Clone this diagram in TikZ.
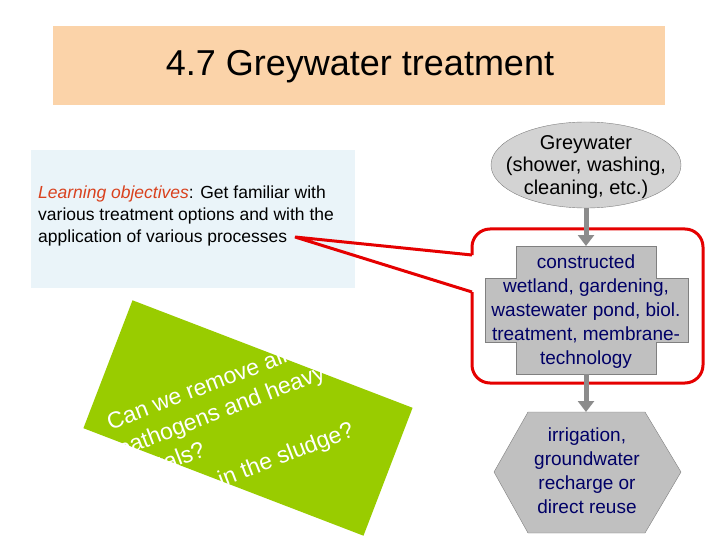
\documentclass[tikz,border=0pt]{standalone}
\usepackage{fontspec}
\setmainfont{Liberation Sans}
\usetikzlibrary{arrows.meta}
\definecolor{peach}{HTML}{FBD3A9}
\definecolor{lblue}{HTML}{EAF4F9}
\definecolor{lgreen}{HTML}{99CC00}
\definecolor{gbox}{HTML}{C0C0C0}
\definecolor{navy}{HTML}{000066}
\definecolor{objred}{HTML}{D9411E}
\tikzset{
 flowarrow/.style={draw=gray!90, line width=5pt, -{Triangle[length=11pt,width=16pt]}},
 boxtext/.style={text=navy, align=center, inner sep=0}
}
\begin{document}
\begin{tikzpicture}[x=1pt,y=-1pt]
\useasboundingbox (0,0) rectangle (720,540);
\fill[white] (0,0) rectangle (720,540);
% title
\fill[peach] (53,26) rectangle (665,105);
\node (title) at (360,67) {\fontsize{36}{40}\selectfont 4.7 Greywater treatment};
% learning objectives
\fill[lblue] (31,150) rectangle (355,288);
\node[anchor=north west, align=left, font=\fontsize{17.5}{22}\selectfont, inner sep=0] (lo) at (38,186)
 {\textcolor{objred}{\textit{Learning objectives}}: Get familiar with\\various treatment options and with the\\application of various processes};
% green rotated box
\fill[lgreen, rotate around={-21:(248,418)}] (98,349.5) rectangle (398,486.5);
\node[rotate=21, text=white, align=left, anchor=center,
 font=\fontsize{23}{29}\selectfont, inner sep=0] (q) at (232,427)
 {Can we remove all the\\pathogens and heavy\\metals?\\[6pt]What is in the sludge?};
% red callout
\draw[red!90!black, line width=3pt, rounded corners=18pt]
 (472,292) -- (472,383) -- (703,383) -- (703,229) -- (472,229) -- (472,255);
\draw[red!90!black, line width=3pt, line join=miter]
 (472,255) -- (295,237) -- (472,292);
% ellipse
\draw[gray, fill=gbox!70] (586,165) ellipse (95 and 43);
\node[align=center, font=\fontsize{20}{22.5}\selectfont, inner sep=0] (gw) at (586,167) {Greywater\\(shower, washing,\\cleaning, etc.)};
% cross box
\draw[gray, fill=gbox] (516,246) -- (656,246) -- (656,278) -- (688,278) -- (688,342) -- (656,342) -- (656,374)
 -- (516,374) -- (516,342) -- (485,342) -- (485,278) -- (516,278) -- cycle;
\node[boxtext, font=\fontsize{19}{24}\selectfont] (tr) at (586,312) {constructed\\wetland, gardening,\\wastewater pond, biol.\\treatment, membrane-\\technology};
\coordinate (trtop) at (586,246);
\coordinate (trbot) at (586,374);
% hexagon
\draw[gray, fill=gbox] (528,412) -- (645,412) -- (681,472) -- (645,533) -- (528,533) -- (494,472) -- cycle;
\node[boxtext, font=\fontsize{19}{24}\selectfont] (re) at (587,471) {irrigation,\\groundwater\\recharge or\\direct reuse};
\coordinate (retop) at (586,412);
\coordinate (gwbot) at (586,208);
\draw[flowarrow] (gwbot) -- (trtop);
\draw[flowarrow] (trbot) -- (retop);
\end{tikzpicture}
\end{document}
